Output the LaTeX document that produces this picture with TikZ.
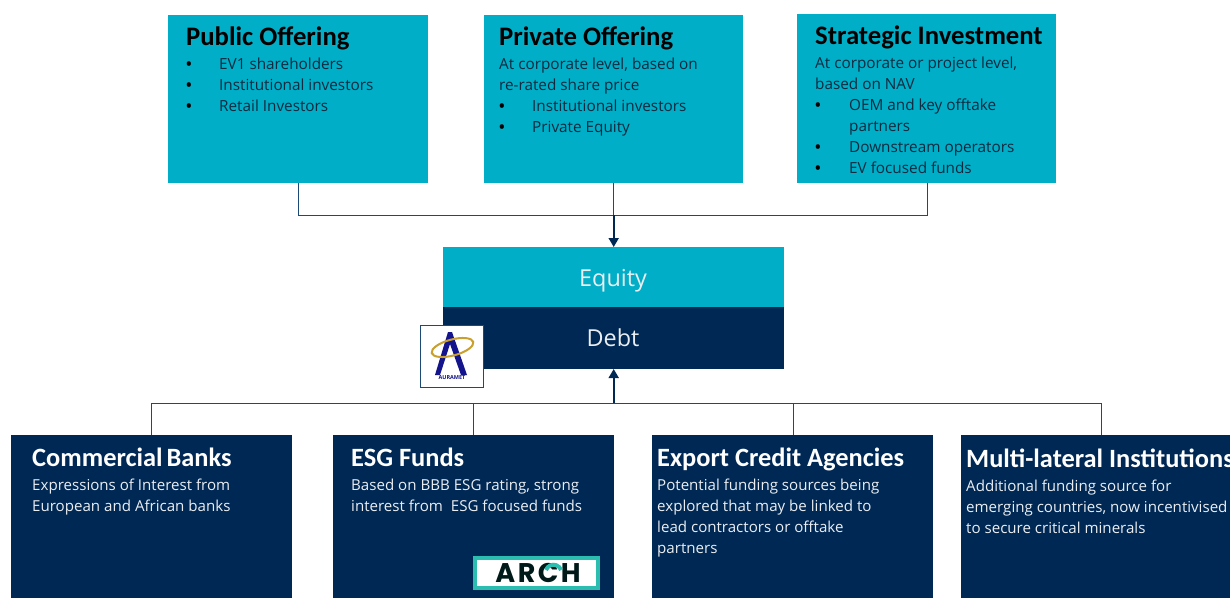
\documentclass[tikz,border=0pt]{standalone}
\usepackage{fontspec}
\setmainfont{Open Sans}
\newfontfamily\titlefont{Carlito}
\newfontfamily\archfont[LetterSpace=9]{Poppins}
\usetikzlibrary{arrows.meta}
\definecolor{tealbox}{HTML}{00AEC7}
\definecolor{navybox}{HTML}{002855}
\definecolor{linecol}{HTML}{1C4A75}
\definecolor{bodydark}{HTML}{0A2A40}
\definecolor{archteal}{HTML}{2BBDB0}
\definecolor{auroblue}{HTML}{14148C}
\definecolor{aurogold}{HTML}{C9A02E}
\newcommand{\tl}[4]{\node[#1] at (#2,#3) {#4};}
\tikzset{
  x=1pt,y=-1pt,
  titledark/.style={anchor=base west,inner sep=0pt,font=\titlefont\bfseries\fontsize{26.7}{26.7}\selectfont,text=black},
  titlelight/.style={anchor=base west,inner sep=0pt,font=\titlefont\bfseries\fontsize{26.4}{26.4}\selectfont,text=white},
  bodyteal/.style={anchor=base west,inner sep=0pt,font=\fontsize{15.3}{15.3}\selectfont,text=bodydark},
  bodynavy/.style={anchor=base west,inner sep=0pt,font=\fontsize{15.1}{15.1}\selectfont,text=white!92!navybox},
  bulletmark/.style={anchor=base west,inner sep=0pt,font=\bfseries\fontsize{15}{15}\selectfont,text=black},
  midlabel/.style={anchor=base,inner sep=0pt,font=\fontsize{23.4}{23.4}\selectfont,text=white!92!navybox},
  connector/.style={draw=linecol,line width=1pt},
  arrowline/.style={draw=navybox,line width=1.8pt,-{Triangle[length=9pt,width=10pt]}},
}
\begin{document}
\begin{tikzpicture}
\useasboundingbox (0,0) rectangle (1230,597);
\fill[white] (0,0) rectangle (1230,597);
% boxes
\fill[tealbox] (168,15) rectangle (428,183);
\fill[tealbox] (484,15) rectangle (743,183);
\fill[tealbox] (797,14) rectangle (1056,183);
\fill[tealbox] (443,247) rectangle (784,307);
\fill[navybox] (443,307) rectangle (784,369);
\fill[navybox] (11,435) rectangle (292,600);
\fill[navybox] (333,435) rectangle (614,600);
\fill[navybox] (652,435) rectangle (933,600);
\fill[navybox] (961,435) rectangle (1240,600);
\coordinate (pub) at (298,183);
\coordinate (pri) at (613,183);
\coordinate (str) at (927,183);
\coordinate (eqt) at (613.7,247);
\coordinate (dbt) at (613.7,369);
\coordinate (cb) at (151,435);
\coordinate (esg) at (473,435);
\coordinate (eca) at (793,435);
\coordinate (mli) at (1101,435);
% connectors
\draw[connector] (pub) -- (298,215) -- (927,215) -- (str);
\draw[connector] (pri) -- (613,215);
\draw[arrowline] (613.7,215) -- (eqt);
\draw[connector] (cb) -- (151,403) -- (1101,403) -- (mli);
\draw[connector] (esg) -- (473,403);
\draw[connector] (eca) -- (793,403);
\draw[arrowline] (613.7,403) -- (dbt);
% top text
\tl{titledark}{186}{45}{Public Offering}
\tl{bulletmark}{186}{69}{•}\tl{bodyteal}{219}{69}{EV1 shareholders}
\tl{bulletmark}{186}{90}{•}\tl{bodyteal}{219}{90}{Institutional investors}
\tl{bulletmark}{186}{111}{•}\tl{bodyteal}{219}{111}{Retail Investors}
\tl{titledark}{499}{45}{Private Offering}
\tl{bodyteal}{499}{69}{At corporate level, based on}
\tl{bodyteal}{499}{90}{re-rated share price}
\tl{bulletmark}{499}{111}{•}\tl{bodyteal}{532}{111}{Institutional investors}
\tl{bulletmark}{499}{132}{•}\tl{bodyteal}{532}{132}{Private Equity}
\tl{titledark}{815}{44}{Strategic Investment}
\tl{bodyteal}{815}{68}{At corporate or project level,}
\tl{bodyteal}{815}{89}{based on NAV}
\tl{bulletmark}{815}{110}{•}\tl{bodyteal}{849}{110}{OEM and key offtake}
\tl{bodyteal}{849}{131}{partners}
\tl{bulletmark}{815}{152}{•}\tl{bodyteal}{849}{152}{Downstream operators}
\tl{bulletmark}{815}{173}{•}\tl{bodyteal}{849}{173}{EV focused funds}
% centre
\node[midlabel] (equitylabel) at (613,286) {Equity};
\node[midlabel] (debtlabel) at (613,346) {Debt};
% bottom text
\tl{titlelight}{32}{466}{Commercial\hspace{-2pt} Banks}
\tl{bodynavy}{32}{490}{Expressions of Interest from}
\tl{bodynavy}{32}{511}{European and African banks}
\tl{titlelight}{351}{466}{ESG Funds}
\tl{bodynavy}{351}{490}{Based on BBB ESG rating, strong}
\tl{bodynavy}{351}{511}{interest from\ \ ESG focused funds}
\tl{titlelight}{657}{466}{Export Credit Agencies}
\tl{bodynavy}{657}{490}{Potential funding sources being}
\tl{bodynavy}{657}{511}{explored that may be linked to}
\tl{bodynavy}{657}{532}{lead contractors or offtake}
\tl{bodynavy}{657}{553}{partners}
\tl{titlelight}{966}{467}{Multi-lateral Institutions}
\tl{bodynavy}{966}{491}{Additional funding source for}
\tl{bodynavy}{966}{512}{emerging countries, now incentivised}
\tl{bodynavy}{966}{533}{to secure critical minerals}
% Auramet logo
\draw[fill=white,draw=linecol,line width=1pt] (420,325) rectangle (483,387);
\fill[auroblue] (448,332) -- (452,332) -- (467,375) -- (461,375) -- (450,344) -- (440,375) -- (435,375) -- cycle;
\draw[aurogold,line width=2pt] (452.5,347.5) ellipse [x radius=21.5,y radius=8,rotate=15];
\node[inner sep=0pt,font=\bfseries\fontsize{5.5}{5.5}\selectfont,text=auroblue] (auramet) at (452,378) {AURAMET};
% ARCH logo
\draw[fill=white,draw=archteal,line width=3.5pt] (475,558) rectangle (598,588);
\node[anchor=base,inner sep=0pt,font=\archfont\bfseries\fontsize{27}{27}\selectfont,text=black!80!teal] (archlogo) at (538,582) {ARCH};
\draw[archteal,line width=4pt] (546,570) arc[start angle=200,end angle=340,radius=8];
\end{tikzpicture}
\end{document}
